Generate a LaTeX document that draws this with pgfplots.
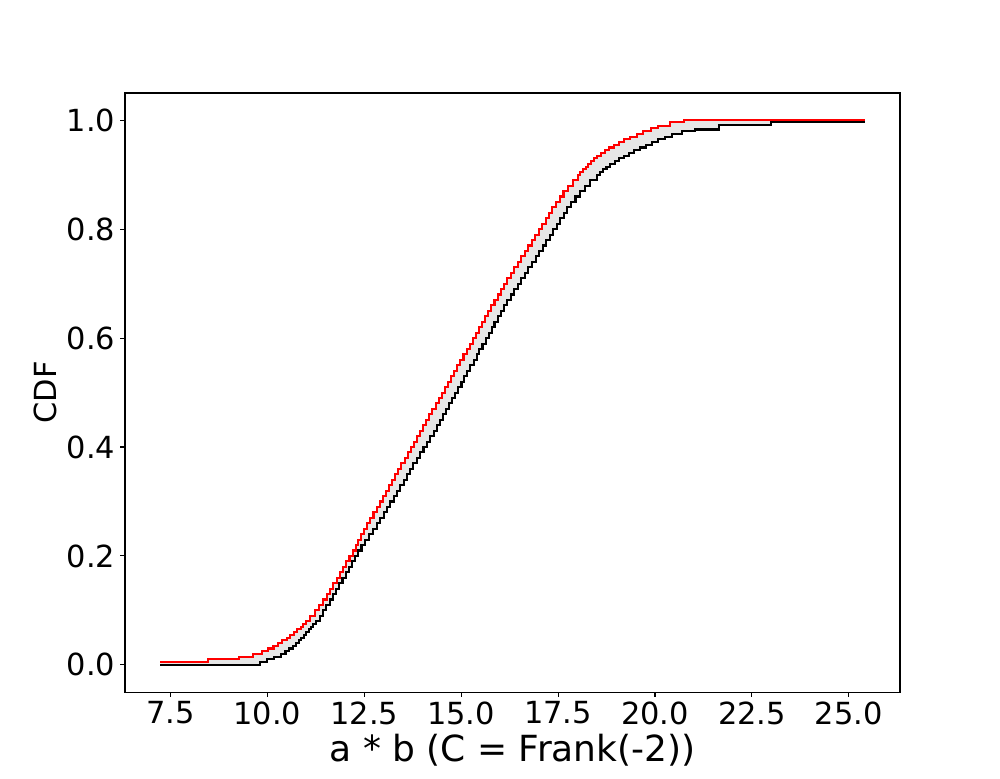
\documentclass[border=0pt]{standalone}
\usepackage{fontspec}
\setmainfont{DejaVu Sans}
\usepackage{pgfplots}
\pgfplotsset{compat=1.18}
\usepgfplotslibrary{fillbetween}
\definecolor{fillgray}{RGB}{230,230,230}
\begin{document}
\begin{tikzpicture}
\begin{axis}[
  at={(90.34pt,62.15pt)}, anchor=south west,
  scale only axis, width=560.1pt, height=432.9pt,
  xmin=6.33, xmax=26.32, ymin=-0.05, ymax=1.05,
  xtick={7.5,10,12.5,15,17.5,20,22.5,25},
  ytick={0,0.2,0.4,0.6,0.8,1},
  tick align=outside, xtick pos=bottom, ytick pos=left,
  major tick length=3.5pt,
  every tick/.style={black, line width=0.8pt},
  axis line style={line width=0.8pt},
  /pgf/number format/assume math mode=true,
  x tick label style={font=\fontsize{22}{26}\selectfont,/pgf/number format/.cd,fixed,fixed zerofill,precision=1,/tikz/.cd},
  y tick label style={font=\fontsize{22}{26}\selectfont,/pgf/number format/.cd,fixed,fixed zerofill,precision=1,/tikz/.cd},
  xlabel={a * b (C = Frank(-2))},
  ylabel={CDF},
  xlabel style={font=\fontsize{26}{30}\selectfont},
  ylabel style={font=\fontsize{22}{26}\selectfont},
]
\addplot[name path=lowerb, const plot mark left, black, line width=1.5pt, no markers] coordinates {
(7.24,0)(9.82,0.005)(10.00,0.010)(10.18,0.015)(10.36,0.020)(10.47,0.025)(10.57,0.030)(10.66,0.035)(10.75,0.040)(10.82,0.045)(10.88,0.050)(10.94,0.055)(11.00,0.06)(11.07,0.065)(11.13,0.07)(11.19,0.075)(11.25,0.08)(11.35,0.09)(11.44,0.10)(11.52,0.11)(11.61,0.12)(11.69,0.13)(11.77,0.14)(11.86,0.15)(11.94,0.16)(12.02,0.17)(12.10,0.18)(12.18,0.19)(12.26,0.20)(12.35,0.21)(12.43,0.22)(12.52,0.23)(12.62,0.24)(12.72,0.25)(12.82,0.26)(12.91,0.27)(13.00,0.28)(13.09,0.29)(13.17,0.30)(13.26,0.31)(13.34,0.32)(13.43,0.33)(13.52,0.34)(13.60,0.35)(13.69,0.36)(13.77,0.37)(13.86,0.38)(13.95,0.39)(14.03,0.40)(14.12,0.41)(14.20,0.42)(14.29,0.43)(14.38,0.44)(14.46,0.45)(14.54,0.46)(14.62,0.47)(14.69,0.48)(14.77,0.49)(14.85,0.50)(14.93,0.51)(15.01,0.52)(15.08,0.53)(15.16,0.54)(15.24,0.55)(15.32,0.56)(15.40,0.57)(15.47,0.58)(15.55,0.59)(15.63,0.60)(15.71,0.61)(15.79,0.62)(15.86,0.63)(15.94,0.64)(16.02,0.65)(16.10,0.66)(16.19,0.67)(16.28,0.68)(16.37,0.69)(16.46,0.70)(16.55,0.71)(16.64,0.72)(16.73,0.73)(16.82,0.74)(16.92,0.75)(17.01,0.76)(17.11,0.77)(17.20,0.78)(17.29,0.79)(17.38,0.80)(17.47,0.81)(17.56,0.82)(17.65,0.83)(17.74,0.84)(17.84,0.85)(17.95,0.86)(18.07,0.87)(18.19,0.88)(18.33,0.89)(18.50,0.90)(18.58,0.905)(18.66,0.91)(18.75,0.915)(18.85,0.92)(18.96,0.925)(19.07,0.93)(19.20,0.935)(19.33,0.94)(19.47,0.945)(19.62,0.95)(19.77,0.955)(19.92,0.96)(20.08,0.965)(20.25,0.97)(20.45,0.975)(20.70,0.98)(21.03,0.983)(21.65,0.991)(23.00,0.997)(25.41,0.997)
};
\addplot[name path=upperb, const plot mark left, red, line width=1.5pt, no markers] coordinates {
(7.24,0.005)(8.48,0.010)(9.28,0.015)(9.64,0.020)(9.87,0.025)(10.02,0.030)(10.16,0.035)(10.28,0.040)(10.39,0.045)(10.50,0.050)(10.59,0.055)(10.68,0.06)(10.77,0.065)(10.86,0.07)(10.93,0.075)(10.99,0.08)(11.10,0.09)(11.23,0.10)(11.33,0.11)(11.43,0.12)(11.53,0.13)(11.61,0.14)(11.70,0.15)(11.79,0.16)(11.88,0.17)(11.96,0.18)(12.04,0.19)(12.12,0.20)(12.20,0.21)(12.28,0.22)(12.35,0.23)(12.42,0.24)(12.50,0.25)(12.58,0.26)(12.66,0.27)(12.74,0.28)(12.82,0.29)(12.90,0.30)(12.98,0.31)(13.06,0.32)(13.14,0.33)(13.22,0.34)(13.30,0.35)(13.38,0.36)(13.46,0.37)(13.54,0.38)(13.62,0.39)(13.70,0.40)(13.78,0.41)(13.86,0.42)(13.94,0.43)(14.02,0.44)(14.10,0.45)(14.18,0.46)(14.26,0.47)(14.34,0.48)(14.42,0.49)(14.50,0.50)(14.58,0.51)(14.66,0.52)(14.74,0.53)(14.82,0.54)(14.90,0.55)(14.98,0.56)(15.06,0.57)(15.14,0.58)(15.22,0.59)(15.30,0.60)(15.38,0.61)(15.46,0.62)(15.54,0.63)(15.62,0.64)(15.70,0.65)(15.78,0.66)(15.86,0.67)(15.94,0.68)(16.02,0.69)(16.10,0.70)(16.19,0.71)(16.28,0.72)(16.37,0.73)(16.46,0.74)(16.55,0.75)(16.64,0.76)(16.73,0.77)(16.82,0.78)(16.91,0.79)(17.00,0.80)(17.09,0.81)(17.18,0.82)(17.26,0.83)(17.35,0.84)(17.44,0.85)(17.54,0.86)(17.64,0.87)(17.76,0.88)(17.88,0.89)(18.01,0.90)(18.07,0.905)(18.14,0.91)(18.21,0.915)(18.28,0.92)(18.35,0.925)(18.42,0.93)(18.51,0.935)(18.60,0.94)(18.71,0.945)(18.82,0.95)(18.94,0.955)(19.06,0.96)(19.21,0.965)(19.36,0.97)(19.53,0.975)(19.70,0.98)(19.90,0.985)(20.08,0.99)(20.39,0.996)(20.75,1.0)(25.41,1.0)
};
\addplot[fillgray] fill between[of=upperb and lowerb];
\end{axis}
\pgfresetboundingbox
\path[use as bounding box] (0,0) rectangle (722.7pt,562.3pt);
\end{tikzpicture}
\end{document}
